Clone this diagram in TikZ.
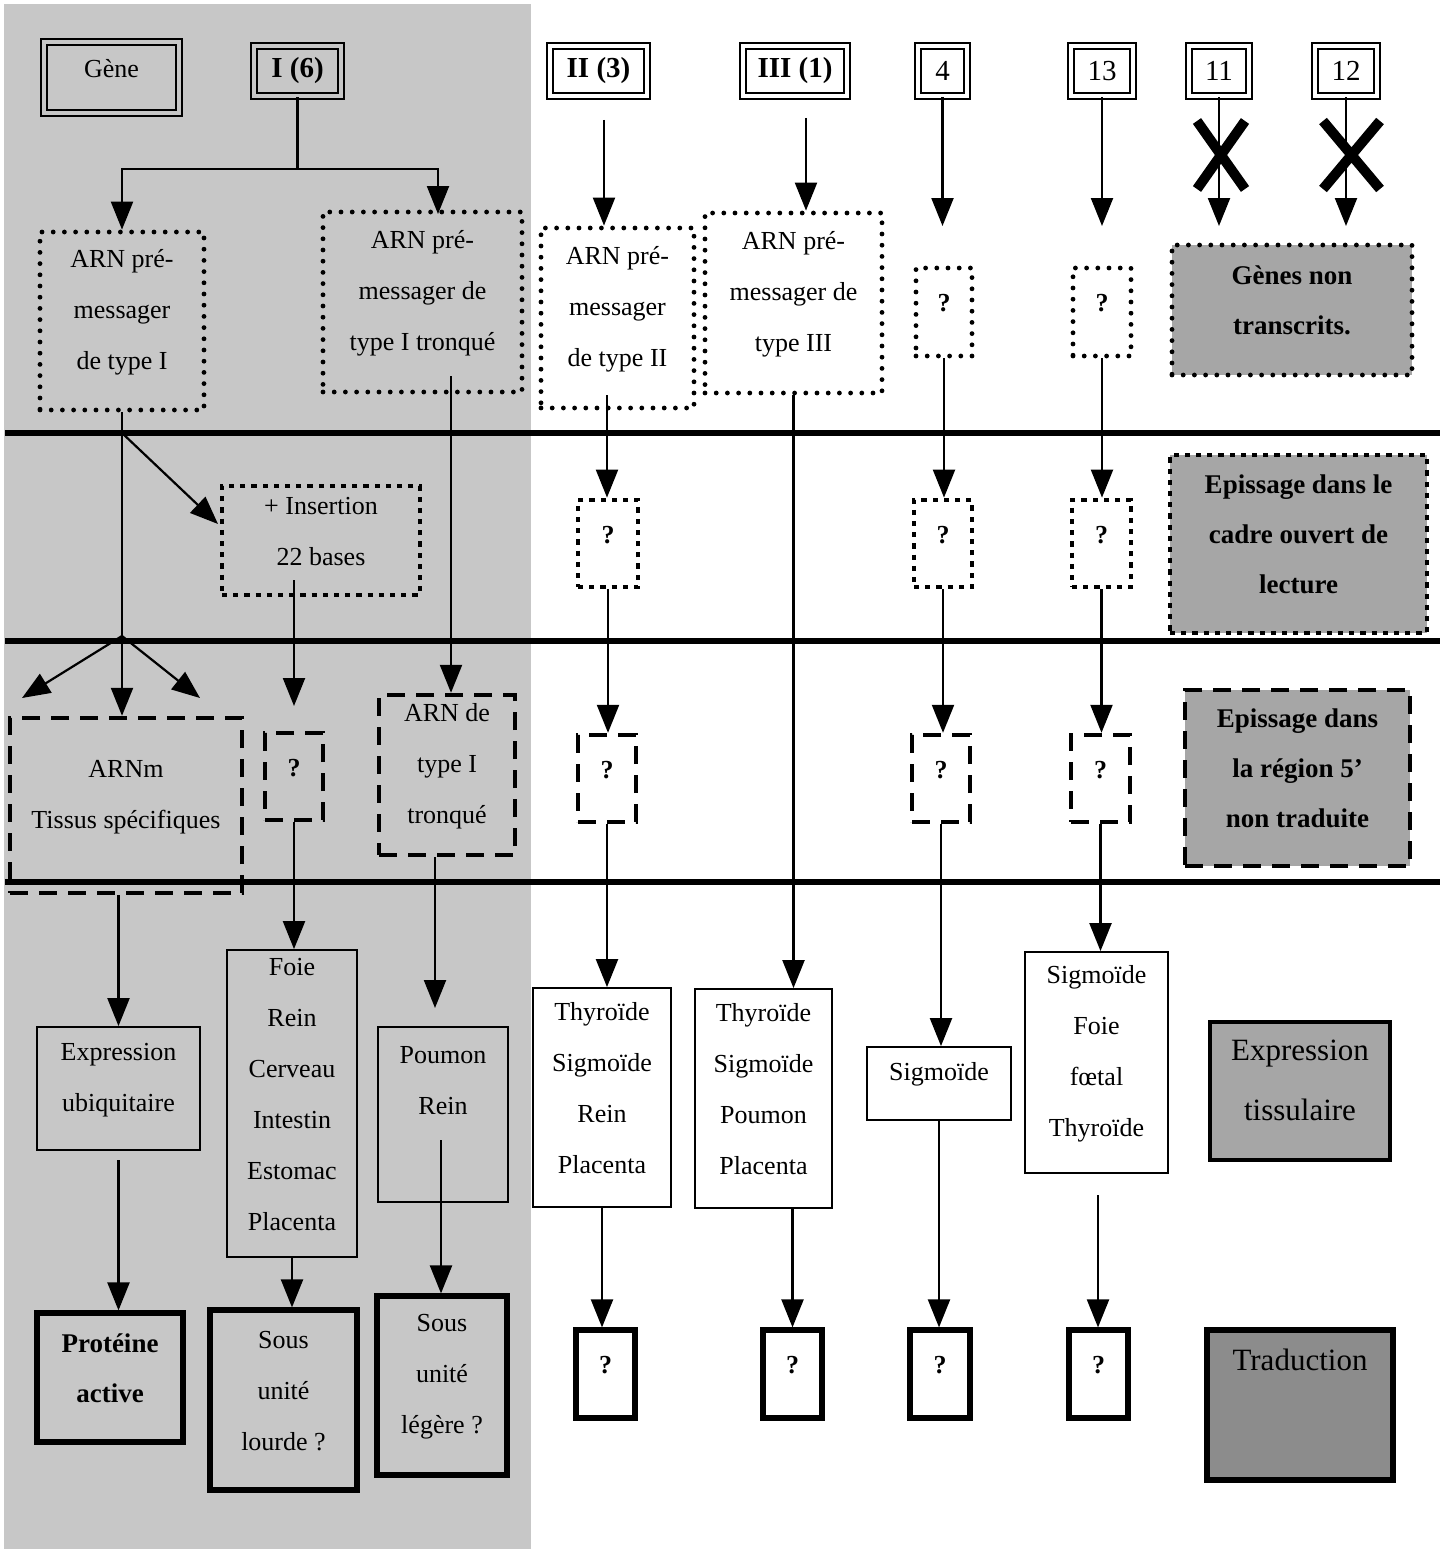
\documentclass[tikz,border=0pt]{standalone}
\usepackage{fontspec}
\setmainfont{Liberation Serif}
\usetikzlibrary{arrows.meta,fit}
\begin{document}
\begin{tikzpicture}[x=0.5pt,y=-0.5pt,
  every node/.style={inner sep=0pt, align=center, font=\fontsize{13}{25.5}\selectfont},
  gbox/.style={draw, line width=1.1pt, double=white, double distance=1.6pt},
  gtxt/.style={font=\fontsize{14.5}{16}\selectfont},
  dotb/.style={draw, line width=2.4pt, dash pattern=on 0pt off 5.6pt, line cap=round},
  sqb/.style={draw, line width=2.4pt, dash pattern=on 2.6pt off 3pt},
  dsh/.style={draw, line width=2.2pt, dash pattern=on 9pt off 5.5pt},
  thinbox/.style={draw, line width=0.9pt},
  thickbox/.style={draw, line width=2.6pt},
  leg/.style={fill=black!35},
  qmark/.style={font=\fontsize{13}{15}\selectfont\bfseries},
  boldtxt/.style={font=\fontsize{13.5}{25}\selectfont\bfseries},
  conn/.style={line width=1.1pt},
  arr/.style={conn, -{Triangle[width=11pt,length=14pt]}},
  sepline/.style={line width=2.6pt},
  xc/.style={line width=5pt}]
\useasboundingbox (0,0) rectangle (1447,1552);
\fill[white] (0,0) rectangle (1447,1552);
% left shaded panel
\fill[black!22] (4,4) rectangle (531,1549);
% separators
\draw[sepline] (5,433) -- (1440,433);
\draw[sepline] (5,641) -- (1440,641);
\draw[sepline] (5,882) -- (1440,882);

% gene row
\node[gbox, double=black!22, fit={(44,42)(179,113)}, label={[gtxt, font=\fontsize{13}{15}\selectfont, yshift=4.5pt]center:Gène}] (gene) {};
\node[gbox, double=black!22, fit={(254,46)(341,96)}, label={[gtxt]center:\textbf{I (6)}}] (I6) {};
\node[gbox, fit={(550,46)(647,96)}, label={[gtxt]center:\textbf{II (3)}}] (II3) {};
\node[gbox, fit={(743,46)(847,96)}, label={[gtxt]center:\textbf{III (1)}}] (III1) {};
\node[gbox, fit={(918,46)(967,96)}, label={[gtxt]center:4}] (g4) {};
\node[gbox, fit={(1071,46)(1133,96)}, label={[gtxt]center:13}] (g13) {};
\node[gbox, fit={(1189,46)(1249,96)}, label={[gtxt]center:11}] (g11) {};
\node[gbox, fit={(1315,46)(1377,96)}, label={[gtxt]center:12}] (g12) {};

% row 1
\node[dotb, fit={(40,232)(204,410)}] (arnI) {ARN pré-\\messager\\de type I};
\node[dotb, fit={(323,212)(522,392)}] (arnIt) {ARN pré-\\messager de\\type I tronqué};
\node[dotb, fill=white, fit={(541,228)(694,408)}] (arnII) {ARN pré-\\messager\\de type II};
\node[dotb, fit={(705,213)(882,393)}] (arnIII) {ARN pré-\\messager de\\type III};
\node[dotb, qmark, fit={(916,268)(972,356)}] (p4a) {?};
\node[dotb, qmark, fit={(1073,268)(1131,356)}] (p13a) {?};
\node[dotb, leg, boldtxt, fit={(1172,245)(1412,375)}] (legA) {Gènes non\\transcrits.};

% row 2
\node[sqb, fit={(222,486)(420,595)}] (ins) {+ Insertion\\22 bases};
\node[sqb, qmark, fit={(578,500)(638,587)}] (p2b) {?};
\node[sqb, qmark, fit={(914,500)(972,587)}] (p4b) {?};
\node[sqb, qmark, fit={(1072,500)(1131,587)}] (p13b) {?};
\node[sqb, leg, boldtxt, fit={(1170,455)(1427,633)}] (legB) {Epissage dans le\\cadre ouvert de\\lecture};

% row 3
\node[dsh, fit={(10,718)(242,893)}] (arnm) {ARNm\\Tissus spécifiques};
\node[dsh, qmark, fit={(265,733)(323,820)}] (q1) {?};
\node[dsh, fit={(379,695)(515,855)}] (arnt) {ARN de\\type I\\tronqué};
\node[dsh, qmark, fit={(578,735)(636,822)}] (p2c) {?};
\node[dsh, qmark, fit={(912,735)(970,822)}] (p4c) {?};
\node[dsh, qmark, fit={(1071,735)(1130,822)}] (p13c) {?};
\node[dsh, leg, boldtxt, fit={(1185,690)(1410,866)}] (legC) {Epissage dans\\la région 5’\\non traduite};

% row 4
\node[thinbox, fit={(37,1027)(200,1150)}] (expr) {Expression\\ubiquitaire};
\node[thinbox, fit={(227,950)(357,1257)}] (foie) {Foie\\Rein\\Cerveau\\Intestin\\Estomac\\Placenta};
\node[thinbox, fit={(378,1027)(508,1202)}] (poumon) {Poumon\\Rein\\\mbox{}};
\node[thinbox, fit={(533,988)(671,1207)}] (t2) {Thyroïde\\Sigmoïde\\Rein\\Placenta};
\node[thinbox, fit={(695,989)(832,1208)}] (t3) {Thyroïde\\Sigmoïde\\Poumon\\Placenta};
\node[thinbox, fit={(867,1047)(1011,1120)}] (t4) {Sigmoïde};
\node[thinbox, fit={(1025,952)(1168,1173)}] (t13) {Sigmoïde\\Foie\\fœtal\\Thyroïde};
\node[draw, line width=1.6pt, leg, font=\fontsize{15.5}{30}\selectfont, fit={(1210,1022)(1390,1160)}] (legD) {Expression\\tissulaire};

% row 5
\node[thickbox, boldtxt, fit={(37,1313)(183,1442)}] (prot) {Protéine\\active};
\node[thickbox, fit={(210,1310)(357,1490)}] (lourde) {Sous\\unité\\lourde ?};
\node[thickbox, fit={(377,1296)(507,1475)}] (legere) {Sous\\unité\\légère ?};
\node[thickbox, qmark, fit={(576,1330)(635,1418)}] (r2) {?};
\node[thickbox, qmark, fit={(763,1330)(822,1418)}] (r3) {?};
\node[thickbox, qmark, fit={(910,1330)(970,1418)}] (r4) {?};
\node[thickbox, qmark, fit={(1069,1330)(1128,1418)}] (r13) {?};
\node[thickbox, fill=black!45, fit={(1207,1330)(1393,1480)}] (legE) {};
\node[font=\fontsize{15.5}{18}\selectfont] (legEt) at (1300,1360) {Traduction};

% connectors, gene I
\coordinate (j1) at (297.5,169);
\coordinate (tI) at (438,214);
\draw[conn] (I6.south) -- (j1);
\draw[arr] (j1) -| (arnI.north);
\draw[arr] (j1) -| (tI);
% other genes
\coordinate (s2) at (604,120);
\coordinate (s3) at (806,118);
\draw[arr] (s2) -- (s2 |- arnII.north);
\draw[arr] (s3) -- (s3 |- arnIII.north);
\coordinate (e4) at (942.5,226);
\coordinate (e13) at (1102,226);
\coordinate (e11) at (1219,226);
\coordinate (e12) at (1346,226);
\draw[arr] (g4.south) -- (e4);
\draw[arr] (g13.south) -- (e13);
\draw[arr] (g11.south) -- (e11);
\draw[arr] (g12.south) -- (e12);
\draw[xc] (1197,121) -- (1245,189) (1245,121) -- (1197,189);
\draw[xc] (1323,121) -- (1380,189) (1380,121) -- (1323,189);

% row 1 -> 2 (type I)
\coordinate (jA) at (122,433);
\coordinate (jB) at (122,636);
\coordinate (insIn) at (218,524);
\draw[conn] (arnI.south) -- (jB);
\draw[arr] (jA) -- (insIn);
\coordinate (fL) at (22,698);
\coordinate (fR) at (200,698);
\draw[arr] (jB) -- (fL);
\draw[arr] (jB) -- (jB |- arnm.north);
\draw[arr] (jB) -- (fR);
\coordinate (insOut) at (294,580);
\coordinate (insTip) at (294,706);
\draw[arr] (insOut) -- (insTip);
\coordinate (tt1) at (451,376);
\draw[arr] (tt1) -- (tt1 |- arnt.north);

% type II column
\coordinate (a2) at (607,395);
\draw[arr] (a2) -- (a2 |- p2b.north);
\draw[arr] (p2b.south) -- (p2b.south |- p2c.north);
\draw[arr] (p2c.south) -- (p2c.south |- t2.north);
\draw[arr] (t2.south) -- (t2.south |- r2.north);
% type III column
\draw[arr] (arnIII.south) -- (arnIII.south |- t3.north);
\draw[arr] (r3.north |- t3.south) -- (r3.north);
% gene 4 column
\draw[arr] (p4a.south) -- (p4a.south |- p4b.north);
\draw[arr] (p4b.south) -- (p4b.south |- p4c.north);
\draw[arr] (p4c.south) -- (p4c.south |- t4.north);
\draw[arr] (t4.south) -- (t4.south |- r4.north);
% gene 13 column
\draw[arr] (p13a.south) -- (p13a.south |- p13b.north);
\draw[arr] (p13b.south) -- (p13b.south |- p13c.north);
\draw[arr] (p13c.south) -- (p13c.south |- t13.north);
\coordinate (t13o) at (1098,1195);
\draw[arr] (t13o) -- (t13o |- r13.north);

% left lower
\draw[arr] (expr.north |- arnm.south) -- (expr.north);
\coordinate (eo) at (118.5,1160);
\draw[arr] (eo) -- (eo |- prot.north);
\draw[arr] (q1.south) -- (q1.south |- foie.north);
\draw[arr] (foie.south) -- (foie.south |- lourde.north);
\coordinate (tp) at (435,1008);
\draw[arr] (arnt.south -| tp) -- (tp);
\coordinate (po) at (441,1140);
\draw[arr] (po) -- (po |- legere.north);
\end{tikzpicture}
\end{document}
